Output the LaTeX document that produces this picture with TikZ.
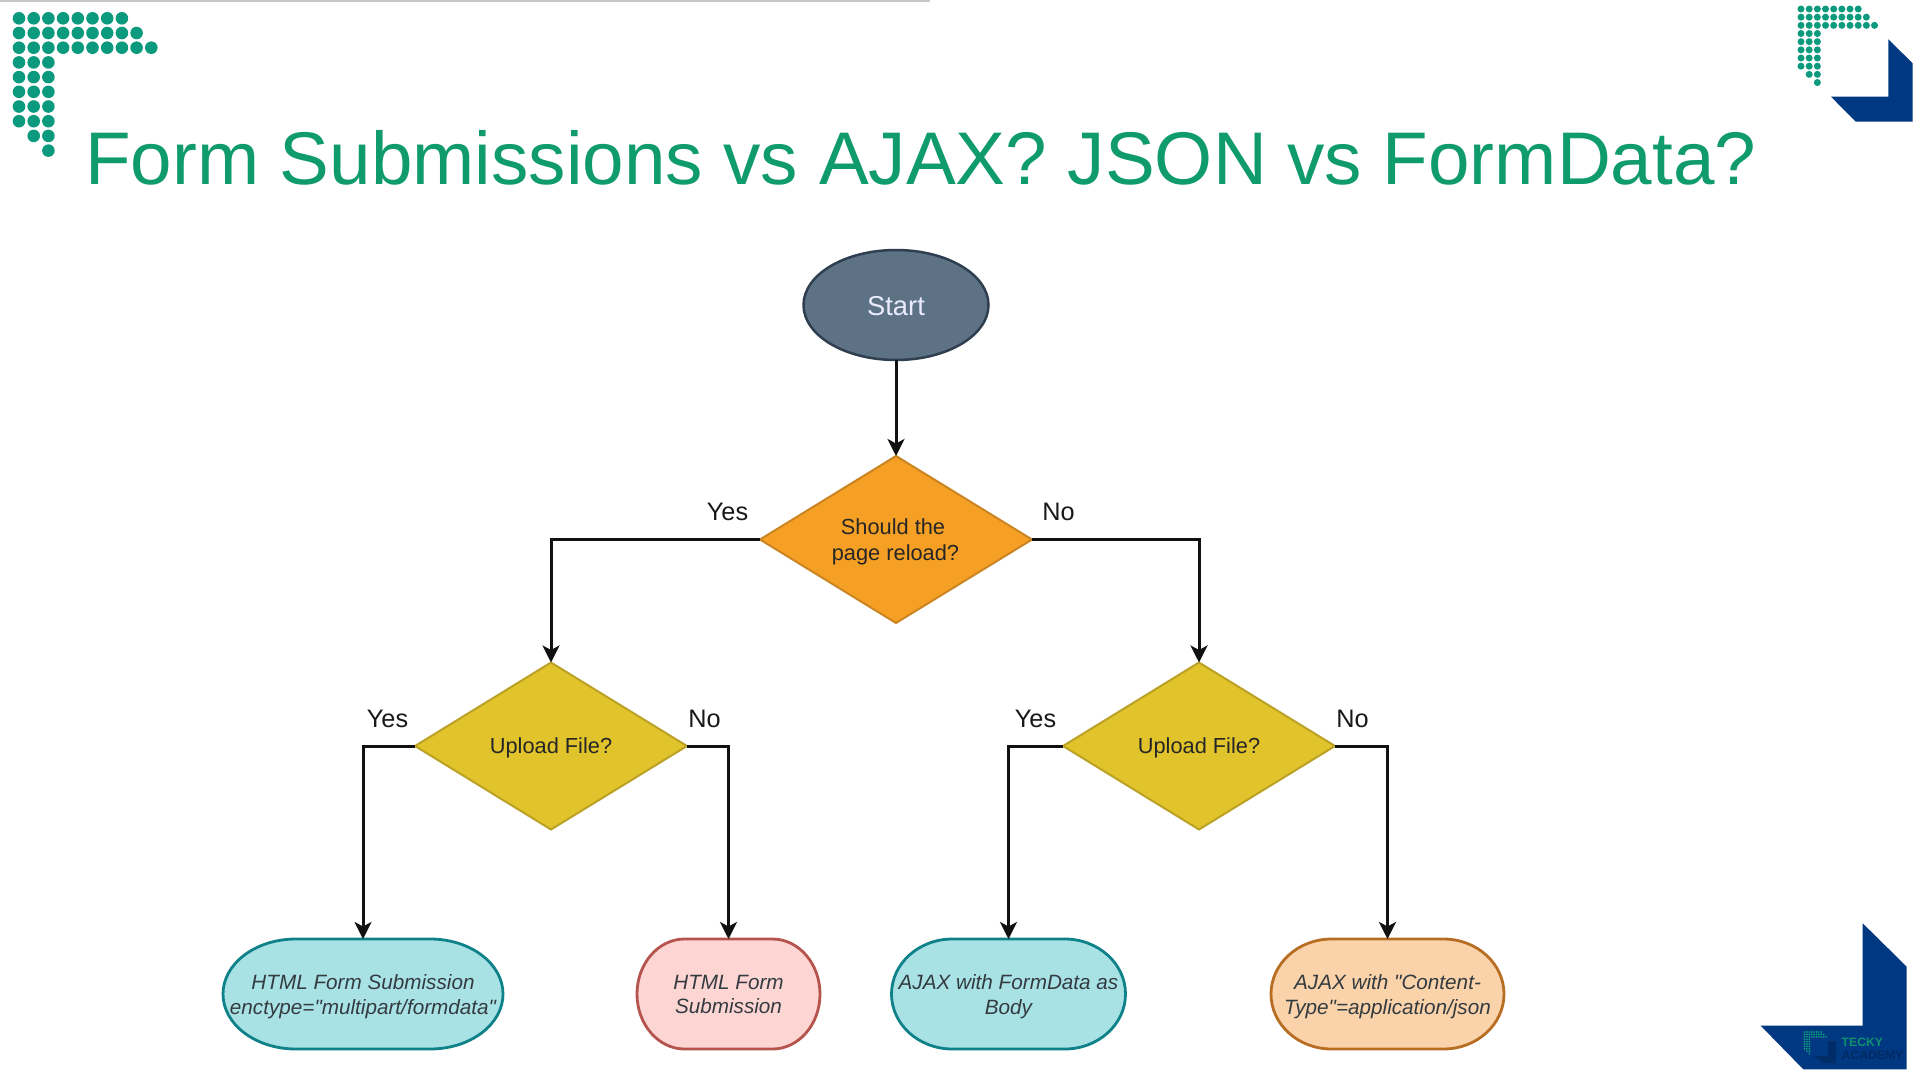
\documentclass[tikz,border=0pt]{standalone}
\usepackage{fontspec}
\setmainfont[Ligatures=TeXOff]{Liberation Sans}
\usetikzlibrary{arrows.meta,shapes.geometric}
\definecolor{titlegreen}{HTML}{0F9B6C}
\definecolor{dotgreen}{HTML}{0C9A7E}
\definecolor{navy}{HTML}{003882}
\definecolor{linkc}{HTML}{111111}
\definecolor{textc}{HTML}{333B40}
\definecolor{startfill}{HTML}{5D7385}
\definecolor{startline}{HTML}{2F3F4F}
\definecolor{qofill}{HTML}{F5A024}
\definecolor{qoline}{HTML}{CB8422}
\definecolor{qyfill}{HTML}{E1C32B}
\definecolor{qyline}{HTML}{BBA126}
\definecolor{tealfill}{HTML}{A9E2E5}
\definecolor{tealline}{HTML}{0E8189}
\definecolor{pinkfill}{HTML}{FDD6D3}
\definecolor{pinkline}{HTML}{B5534D}
\definecolor{peachfill}{HTML}{FAD3AA}
\definecolor{peachline}{HTML}{B86E22}
\tikzset{
  flow/.style={draw=linkc,line width=3pt,-{Stealth[length=17pt,width=17pt,inset=4.5pt]}},
  decision/.style={diamond,shape aspect=1.63,inner sep=0pt,outer sep=0pt,minimum width=272pt,minimum height=167pt,line width=2pt},
  dectext/.style={inner sep=0pt,align=center,text=black!85,font=\fontsize{21.8}{26}\selectfont},
  qorange/.style={fill=qofill,draw=qoline},
  qyellow/.style={fill=qyfill,draw=qyline},
  lab/.style={font=\fontsize{25.3}{28}\selectfont,text=black!90,inner sep=0pt},
  termtext/.style={inner sep=0pt,outer sep=0pt,align=center,text=textc,font=\fontsize{20.7}{24.5}\selectfont\itshape},
  teal/.style={fill=tealfill,draw=tealline,line width=2.8pt},
  pinkb/.style={fill=pinkfill,draw=pinkline,line width=2.8pt},
  peach/.style={fill=peachfill,draw=peachline,line width=2.8pt},
}
% name, cx, cy, width, height, style, text
\newcommand{\termbox}[7]{%
  \pgfmathsetmacro{\tl}{#2-#4/2}\pgfmathsetmacro{\tr}{#2+#4/2}%
  \pgfmathsetmacro{\rx}{0.26*#4}\pgfmathsetmacro{\ry}{#5/2}%
  \pgfmathsetmacro{\ttop}{#3-#5/2}%
  \draw[#6] (\tl+\rx,\ttop) -- (\tr-\rx,\ttop)
    arc[start angle=90,end angle=-90,x radius=\rx pt,y radius=\ry pt]
    -- (\tl+\rx,\ttop+#5)
    arc[start angle=270,end angle=90,x radius=\rx pt,y radius=\ry pt] -- cycle;
  \node[inner sep=0pt,outer sep=0pt,minimum width=#4pt,minimum height=#5pt] (#1) at (#2,#3) {};%
  \node[termtext] (#1text) at (#2,#3+2.4) {#7};%
}
% originx, originy, step, radius
\newcommand{\dotlogo}[4]{%
  \foreach \r/\a/\b in {0/0/7,1/0/8,2/0/9,3/0/2,4/0/2,5/0/2,6/0/2,7/0/2,8/1/2,9/2/2}{%
    \foreach \c in {\a,...,\b}{%
      \fill[dotgreen] (#1+\c*#3,#2+\r*#3) circle[radius=#4pt];
    }%
  }%
}
\begin{document}
\begin{tikzpicture}[x=1pt,y=-1pt]
\useasboundingbox (0,0) rectangle (1920,1080);
\fill[white] (0,0) rectangle (1920,1080);
\fill[black!22] (0,0) rectangle (930,2);
% corner decoration
\dotlogo{19}{18.3}{14.7}{6.3}
\dotlogo{1801}{9}{8.17}{3.5}
\fill[navy] (1888.3,39.3) -- (1912.7,63.3) -- (1912.7,121.7) -- (1855.7,121.7) -- (1831,96.7) -- (1888.3,96.7) -- cycle;
\fill[navy] (1862.7,923.3) -- (1906.7,966.7) -- (1906.7,1069.3) -- (1803.3,1069.3) -- (1760.7,1025.7) -- (1862.7,1025.7) -- cycle;
% footer logo
\fill[navy!80!black] (1836,1041) -- (1836,1063) -- (1823,1063) -- (1813,1056) -- (1828,1056) -- (1828,1041) -- cycle;
\dotlogo{1804.5}{1032}{2.4}{1}
\node[inner sep=0pt,anchor=base west,text=titlegreen!90!navy,font=\fontsize{12.2}{14}\selectfont\bfseries] (tecky) at (1841.5,1046) {TECKY};
\node[inner sep=0pt,anchor=base west,text=navy!75!black,font=\fontsize{12.2}{14}\selectfont\bfseries] (academy) at (1841.5,1059) {ACADEMY};
% title
\node[inner sep=0pt,anchor=base west,text=titlegreen,font=\fontsize{74.62}{80}\selectfont] (title) at (85,184.5) {Form Submissions vs AJAX? JSON vs FormData?};
% nodes
\node[ellipse,fill=startfill,draw=startline,line width=2.5pt,inner sep=0pt,outer sep=0pt,minimum width=185pt,minimum height=110pt] (start) at (896,305) {};
\node[inner sep=0pt,text=white!92!blue,font=\fontsize{27.3}{30}\selectfont] (starttext) at (896,306.2) {Start};
\node[decision,qorange] (q1) at (896,539.5) {};
\node[dectext] (q1text) at (895.5,542) {\hspace*{-5pt}Should the\\page reload?};
\node[decision,qyellow] (q2) at (551,746) {};
\node[dectext] (q2text) at (551,747.5) {Upload File?};
\node[decision,qyellow] (q3) at (1199,746) {};
\node[dectext] (q3text) at (1199,747.5) {Upload File?};
\termbox{t1}{363}{994}{280}{110}{teal}{HTML Form Submission\\enctype="multipart/formdata"}
\termbox{t2}{728.5}{994}{183}{110}{pinkb}{HTML Form\\Submission\vphantom{y}}
\termbox{t3}{1008.5}{994}{234}{110}{teal}{AJAX with FormData as\\Body}
\termbox{t4}{1387.5}{994}{233}{110}{peach}{AJAX with "Content-\\Type"=application/json}
% connectors
\draw[flow] (start.south) -- (q1.north);
\draw[flow] (q1.west) -| (q2.north);
\draw[flow] (q1.east) -| (q3.north);
\draw[flow] (q2.west) -| (t1.north);
\draw[flow] (q2.east) -| (t2.north);
\draw[flow] (q3.west) -| (t3.north);
\draw[flow] (q3.east) -| (t4.north);
% labels
\node[lab] (l1) at (727.5,512) {Yes};
\node[lab] (l2) at (1058.5,512) {No};
\node[lab] (l3) at (387.5,719) {Yes};
\node[lab] (l4) at (704.5,719) {No};
\node[lab] (l5) at (1035.5,719) {Yes};
\node[lab] (l6) at (1352.5,719) {No};
\end{tikzpicture}
\end{document}
